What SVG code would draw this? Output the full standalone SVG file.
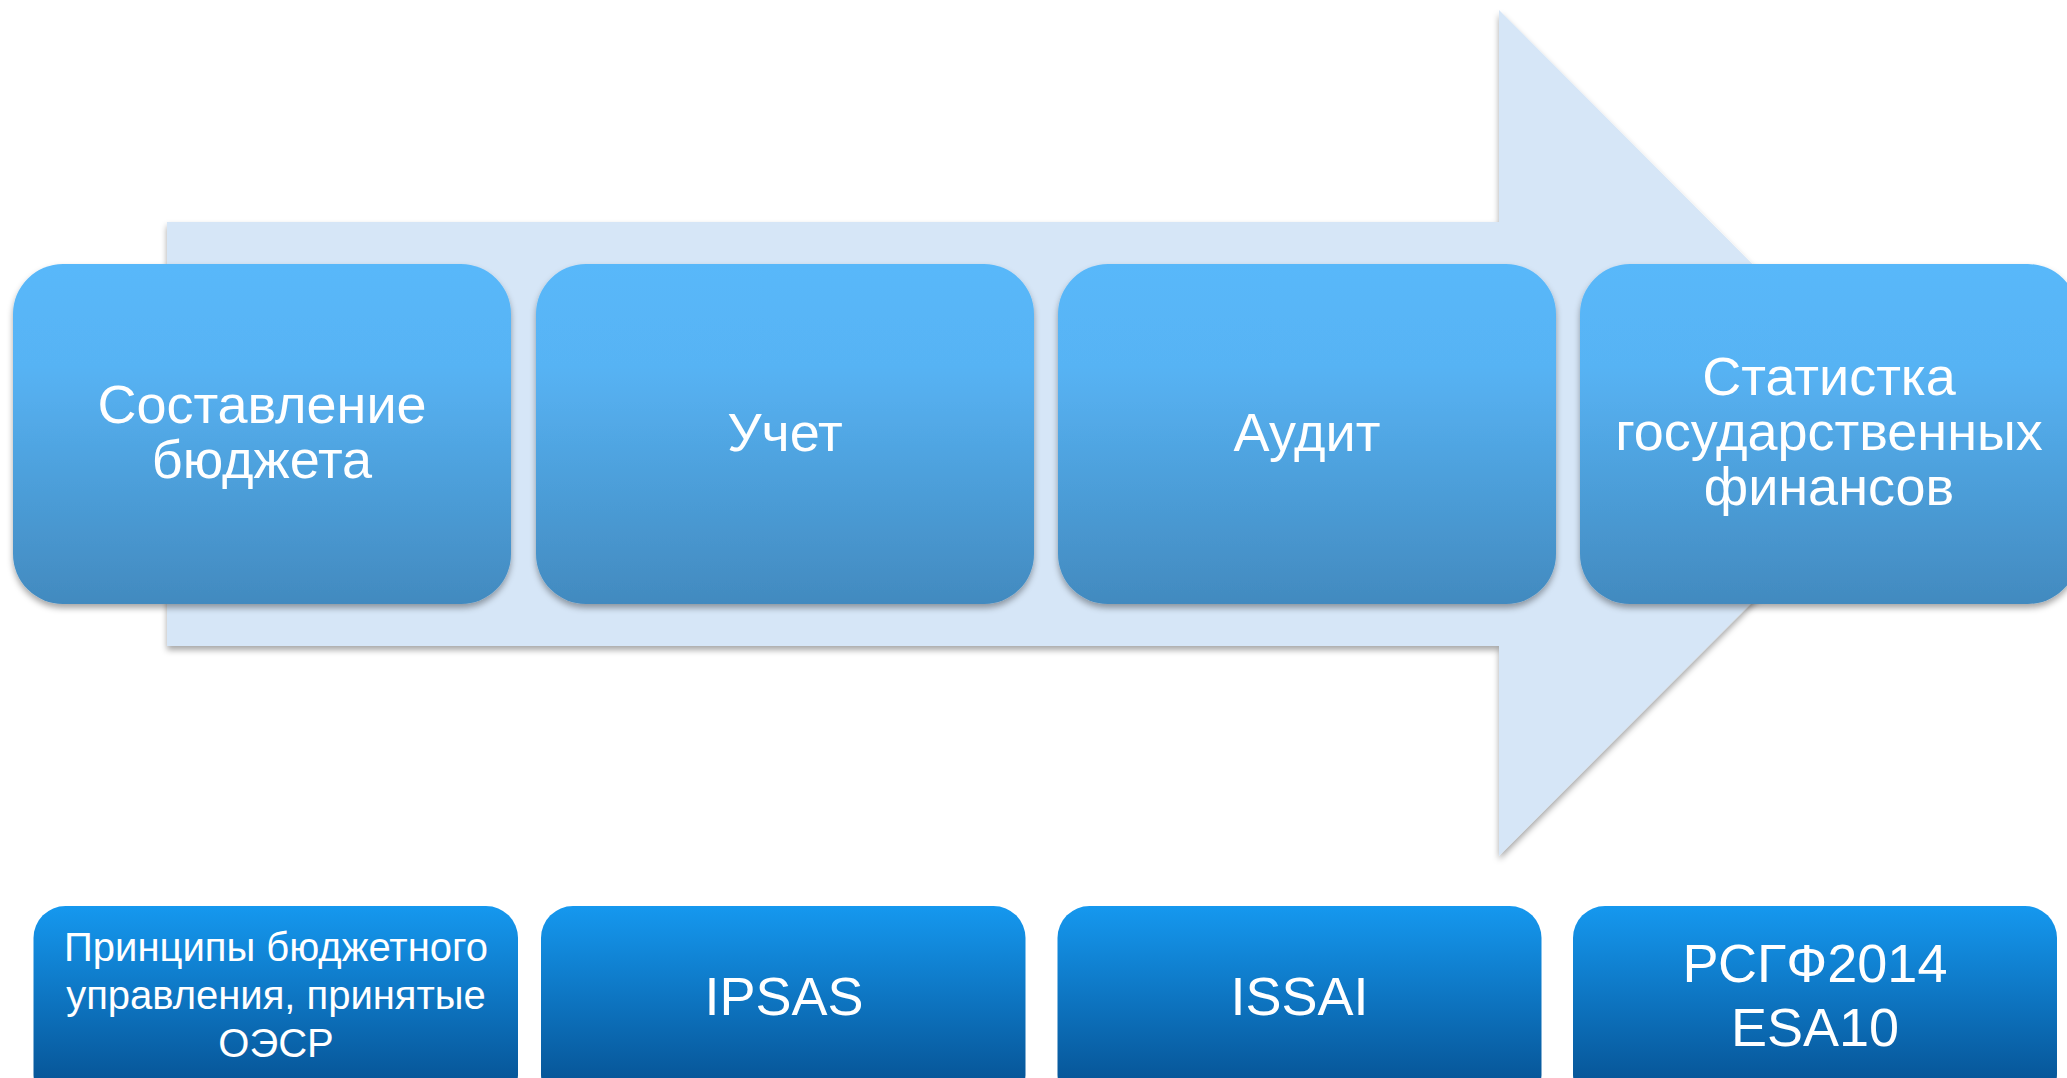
<svg xmlns="http://www.w3.org/2000/svg" width="2067" height="1078" viewBox="0 0 2067 1078">
<style>
.t{font-family:"Liberation Sans",Arial,sans-serif;fill:#fff;text-anchor:middle}
.big{font-size:54px}
.sm{font-size:40px}
.top{fill:url(#gTop)}
.bot{fill:url(#gBot)}
</style>
<defs>
<linearGradient id="gTop" x1="0" y1="0" x2="0" y2="1">
<stop offset="0" stop-color="#59B8FA"/>
<stop offset="0.3" stop-color="#57B3F4"/>
<stop offset="1" stop-color="#428ABF"/>
</linearGradient>
<linearGradient id="gBot" gradientUnits="userSpaceOnUse" x1="0" y1="906" x2="0" y2="1078">
<stop offset="0" stop-color="#1598EF"/>
<stop offset="1" stop-color="#07579A"/>
</linearGradient>
<filter id="sh" x="-5%" y="-5%" width="110%" height="115%">
<feDropShadow dx="0" dy="4" stdDeviation="3" flood-color="#000" flood-opacity="0.35"/>
</filter>
</defs>
<rect width="2067" height="1078" fill="#fff"/>
<g id="arrow">
<polygon points="167,222 1499,222 1499,10 1921,433 1499,856 1499,646 167,646" fill="#D6E6F7" filter="url(#sh)"/>
</g>
<g id="connectors"></g>
<g id="n1">
<rect class="top" x="13" y="264" width="498" height="340" rx="50" ry="50" filter="url(#sh)"/>
<text class="t big" x="262" y="423">Составление</text>
<text class="t big" x="262" y="478">бюджета</text>
</g>
<g id="n2">
<rect class="top" x="536" y="264" width="498" height="340" rx="50" ry="50" filter="url(#sh)"/>
<text class="t big" x="785" y="451">Учет</text>
</g>
<g id="n3">
<rect class="top" x="1058" y="264" width="498" height="340" rx="50" ry="50" filter="url(#sh)"/>
<text class="t big" x="1307" y="451">Аудит</text>
</g>
<g id="n4">
<rect class="top" x="1580" y="264" width="498" height="340" rx="50" ry="50" filter="url(#sh)"/>
<text class="t big" x="1829" y="395">Статистка</text>
<text class="t big" x="1829" y="450">государственных</text>
<text class="t big" x="1829" y="505">финансов</text>
</g>
<g id="b1">
<rect class="bot" x="33.5" y="906" width="484.5" height="200" rx="32" ry="32"/>
<text class="t sm" x="276" y="961">Принципы бюджетного</text>
<text class="t sm" x="276" y="1009">управления, принятые</text>
<text class="t sm" x="276" y="1057">ОЭСР</text>
</g>
<g id="b2">
<rect class="bot" x="541" y="906" width="484.5" height="200" rx="32" ry="32"/>
<text class="t big" x="784" y="1015">IPSAS</text>
</g>
<g id="b3">
<rect class="bot" x="1057.5" y="906" width="484" height="200" rx="32" ry="32"/>
<text class="t big" x="1299.5" y="1015">ISSAI</text>
</g>
<g id="b4">
<rect class="bot" x="1573" y="906" width="484" height="200" rx="32" ry="32"/>
<text class="t big" x="1815" y="982">РСГФ2014</text>
<text class="t big" x="1815" y="1046">ESA10</text>
</g>
</svg>
